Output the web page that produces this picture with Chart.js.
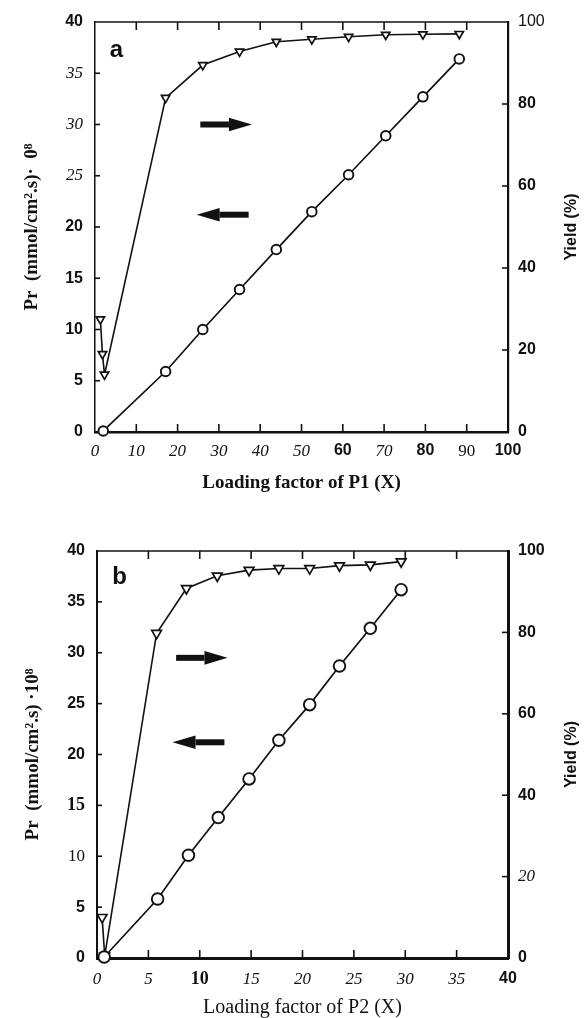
<!DOCTYPE html>
<html><head><meta charset="utf-8">
<script src="https://cdn.jsdelivr.net/npm/chart.js@4.4.1/dist/chart.umd.min.js"></script>
<style>html,body{margin:0;padding:0;background:#fff;overflow:hidden}canvas{position:absolute;left:0;display:block}</style>
</head><body>
<canvas id="ca" width="584" height="500" style="top:0;width:584px;height:500px"></canvas>
<canvas id="cb" width="584" height="518" style="top:500px;width:584px;height:518px"></canvas>
<script>
// ---------- data: panel a (P1) ----------
const aCircleX = [2.0, 17.1, 26.1, 35.0, 43.9, 52.5, 61.4, 70.4, 79.4, 88.2];
const aCircleY = [0.1, 5.9, 10.0, 13.9, 17.8, 21.5, 25.1, 28.9, 32.7, 36.4];
const aTriX = [1.3, 1.8, 2.3, 17.1, 26.1, 35.0, 43.9, 52.5, 61.4, 70.4, 79.4, 88.2];
const aTriY = [27.5, 19.0, 14.0, 81.5, 89.5, 92.8, 95.2, 95.8, 96.4, 96.9, 97.0, 97.1];
const aXTicks = [0, 10, 20, 30, 40, 50, 60, 70, 80, 90, 100];
const aYTicks = [0, 5, 10, 15, 20, 25, 30, 35, 40];
const aY2Ticks = [0, 20, 40, 60, 80, 100];
// ---------- data: panel b (P2) ----------
const bCircleX = [0.7, 5.9, 8.9, 11.8, 14.8, 17.7, 20.7, 23.6, 26.6, 29.6];
const bCircleY = [0.1, 5.8, 10.1, 13.8, 17.6, 21.4, 24.9, 28.7, 32.4, 36.2];
const bTriX = [0.5, 0.75, 5.8, 8.7, 11.7, 14.8, 17.7, 20.7, 23.6, 26.6, 29.6];
const bTriY = [10.0, 0.5, 79.8, 90.8, 93.9, 95.3, 95.7, 95.7, 96.4, 96.6, 97.4];
const bXTicks = [0, 5, 10, 15, 20, 25, 30, 35, 40];
const bYTicks = [0, 5, 10, 15, 20, 25, 30, 35, 40];
const bY2Ticks = [0, 20, 40, 60, 80, 100];

const INK = '#111';
const F = {
  sb: {family: '"Liberation Sans", Arial, sans-serif', weight: 'bold', size: 16},
  si: {family: '"Liberation Serif", serif', style: 'italic', size: 17},
  s:  {family: '"Liberation Serif", serif', size: 17},
  sB: {family: '"Liberation Serif", serif', weight: 'bold', size: 18},
  n:  {family: '"Liberation Sans", Arial, sans-serif', size: 16}
};
function fontPicker(map, def) {
  return (ctx) => {
    const v = ctx.tick ? ctx.tick.value : null;
    return F[(v in map) ? map[v] : def];
  };
}
function pts(xs, ys) { return xs.map((x, i) => ({x, y: ys[i]})); }
function tickCb(list) { return (scale) => { scale.ticks = list.map(v => ({value: v})); }; }

const decor = {
  id: 'decor',
  afterDatasetsDraw(chart, args, o) {
    const {ctx, chartArea: {left, right, top, bottom}, scales} = chart;
    const X = scales.x, Y = scales.y, Y2 = scales.y2;
    ctx.save();
    ctx.strokeStyle = INK; ctx.fillStyle = INK;
    ctx.lineWidth = o.topW;
    ctx.beginPath(); ctx.moveTo(left, top); ctx.lineTo(right, top); ctx.stroke();
    ctx.lineWidth = 1.6;
    X.ticks.forEach(t => {
      if (t.value <= X.min || t.value >= X.max) return;
      const px = X.getPixelForValue(t.value);
      ctx.beginPath(); ctx.moveTo(px, bottom); ctx.lineTo(px, bottom - o.tickLen); ctx.stroke();
      ctx.beginPath(); ctx.moveTo(px, top); ctx.lineTo(px, top + o.tickLen); ctx.stroke();
    });
    Y.ticks.forEach(t => {
      if (t.value <= Y.min || t.value >= Y.max) return;
      const py = Y.getPixelForValue(t.value);
      ctx.beginPath(); ctx.moveTo(left, py); ctx.lineTo(left + 5, py); ctx.stroke();
    });
    Y2.ticks.forEach(t => {
      if (t.value <= Y2.min || t.value >= Y2.max) return;
      const py = Y2.getPixelForValue(t.value);
      ctx.beginPath(); ctx.moveTo(right, py); ctx.lineTo(right - 6, py); ctx.stroke();
    });
    o.arrows.forEach(a => {
      const x0 = X.getPixelForValue(a.from), x1 = X.getPixelForValue(a.to), y = Y.getPixelForValue(a.y);
      const dir = Math.sign(x1 - x0), head = 23, hh = 6.8;
      ctx.fillRect(Math.min(x0, x1 - dir * head), y - 3, Math.abs(x1 - dir * head - x0), 6);
      ctx.beginPath();
      ctx.moveTo(x1, y); ctx.lineTo(x1 - dir * head, y - hh); ctx.lineTo(x1 - dir * head, y + hh);
      ctx.closePath(); ctx.fill();
    });
    ctx.font = 'bold 24px "Liberation Sans", Arial, sans-serif';
    ctx.textAlign = 'center'; ctx.textBaseline = 'middle';
    ctx.fillText(o.letter.text, X.getPixelForValue(o.letter.x), Y.getPixelForValue(o.letter.y));
    ctx.save();
    ctx.translate(o.rightTitleX, (top + bottom) / 2);
    ctx.rotate(-Math.PI / 2);
    ctx.font = 'bold 16px "Liberation Sans", Arial, sans-serif';
    ctx.fillText('Yield (%)', 0, 0);
    ctx.restore();
    ctx.restore();
  }
};

function makeChart(id, cfg) {
  return new Chart(document.getElementById(id), {
    type: 'line',
    data: {
      datasets: [
        {data: pts(cfg.cx, cfg.cy), yAxisID: 'y', borderColor: INK, borderWidth: 1.7,
         pointStyle: 'circle', pointRadius: cfg.cr, pointBackgroundColor: '#fff', pointBorderColor: INK,
         pointBorderWidth: 1.9, tension: 0, clip: false},
        {data: pts(cfg.tx, cfg.ty), yAxisID: 'y2', borderColor: INK, borderWidth: 1.6,
         pointStyle: 'triangle', pointRotation: 180, pointRadius: cfg.tr, pointBackgroundColor: '#fff',
         pointBorderColor: INK, pointBorderWidth: 1.7, tension: 0, clip: false}
      ]
    },
    options: {
      responsive: false, animation: false, devicePixelRatio: 1,
      layout: {padding: {top: cfg.padTop, left: 0, right: 0, bottom: 0}},
      plugins: {legend: {display: false}, tooltip: {enabled: false}, decor: cfg.decor},
      scales: {
        x: {type: 'linear', position: 'bottom', min: cfg.xmin, max: cfg.xmax,
            afterBuildTicks: tickCb(cfg.xt), afterFit: s => { s.height = cfg.xH; },
            grid: {display: false, drawTicks: false},
            border: {display: true, color: INK, width: cfg.bw.bottom},
            ticks: {color: INK, padding: cfg.xPad, maxRotation: 0, autoSkip: false, font: fontPicker(cfg.xf, cfg.xfd)},
            title: {display: true, text: cfg.xTitle, color: INK, font: cfg.xTitleFont, padding: {top: 0, bottom: cfg.xTitlePad}}},
        y: {type: 'linear', position: 'left', min: 0, max: 40,
            afterBuildTicks: tickCb(cfg.yt), afterFit: s => { s.width = cfg.yW; },
            grid: {display: false, drawTicks: false},
            border: {display: true, color: INK, width: cfg.bw.left},
            ticks: {color: INK, padding: 12, font: fontPicker(cfg.yf, cfg.yfd)},
            title: {display: true, text: cfg.yTitle, color: INK,
                    font: {family: '"Liberation Serif", serif', weight: 'bold', size: 19, lineHeight: 1},
                    padding: {top: cfg.yTitlePad, bottom: 0}}},
        y2: {type: 'linear', position: 'right', min: 0, max: 100,
            afterBuildTicks: tickCb(cfg.y2t), afterFit: s => { s.width = 584 - cfg.right; },
            grid: {display: false, drawTicks: false},
            border: {display: true, color: INK, width: cfg.bw.right},
            ticks: {color: INK, padding: 10, font: fontPicker(cfg.y2f, cfg.y2fd)}}
      }
    },
    plugins: [decor]
  });
}

makeChart('ca', {
  cx: aCircleX, cy: aCircleY, tx: aTriX, ty: aTriY, cr: 4.8, tr: 4.8,
  xmin: 0, xmax: 100, xt: aXTicks, yt: aYTicks, y2t: aY2Ticks,
  padTop: 22, xH: 68, yW: 95, right: 508, xPad: 9,
  bw: {bottom: 2.5, left: 1.5, right: 2.2},
  xf: {60: 'sb', 80: 'sb', 90: 's', 100: 'sb'}, xfd: 'si',
  yf: {25: 'si', 30: 'si', 35: 'si'}, yfd: 'sb',
  y2f: {100: 'n'}, y2fd: 'sb',
  xTitle: 'Loading factor of P1 (X)',
  xTitleFont: {family: '"Liberation Serif", serif', weight: 'bold', size: 19, lineHeight: 1},
  xTitlePad: 7,
  yTitle: 'Pr  (mmol/cm².s)·  0⁸', yTitlePad: 23,
  decor: {topW: 1.3, tickLen: 8, rightTitleX: 572,
          letter: {text: 'a', x: 5.2, y: 37.2},
          arrows: [{from: 25.5, to: 38, y: 30}, {from: 37.2, to: 24.6, y: 21.2}]}
});

makeChart('cb', {
  cx: bCircleX, cy: bCircleY, tx: bTriX, ty: bTriY, cr: 5.8, tr: 5.6,
  xmin: 0, xmax: 40, xt: bXTicks, yt: bYTicks, y2t: bY2Ticks,
  padTop: 51, xH: 60, yW: 97, right: 508, xPad: 11,
  bw: {bottom: 3, left: 2, right: 3},
  xf: {10: 'sB', 40: 'sb'}, xfd: 'si',
  yf: {15: 'sB', 10: 's'}, yfd: 'sb',
  y2f: {20: 'si'}, y2fd: 'sb',
  xTitle: 'Loading factor of P2 (X)',
  xTitleFont: {family: '"Liberation Serif", serif', size: 20, lineHeight: 1},
  xTitlePad: 0,
  yTitle: 'Pr  (mmol/cm².s) ·10⁸', yTitlePad: 24,
  decor: {topW: 1.3, tickLen: 8, rightTitleX: 572,
          letter: {text: 'b', x: 2.2, y: 37.4},
          arrows: [{from: 7.7, to: 12.7, y: 29.5}, {from: 12.4, to: 7.35, y: 21.2}]}
});
</script>
</body></html>
